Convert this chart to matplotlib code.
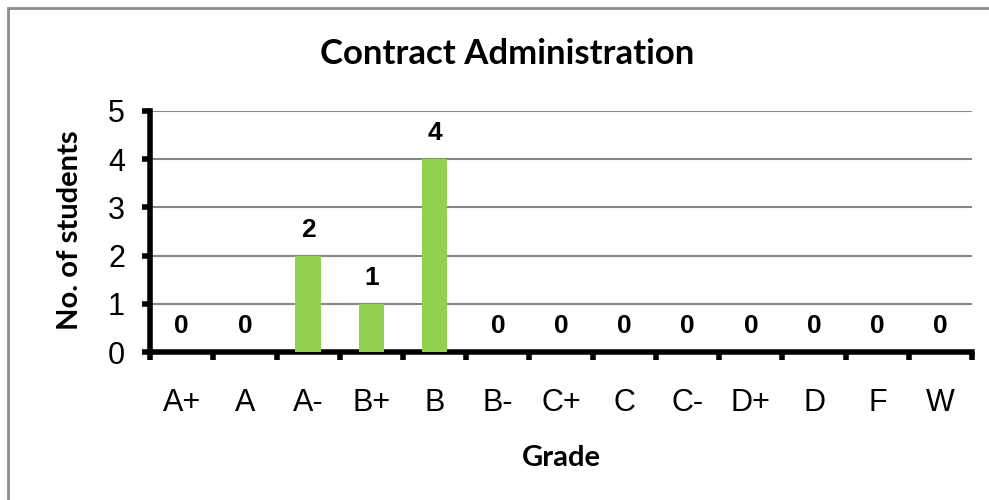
import matplotlib.pyplot as plt
from matplotlib.patches import Rectangle

grades = ["A+", "A", "A-", "B+", "B", "B-", "C+", "C", "C-", "D+", "D", "F", "W"]
students = [0, 0, 2, 1, 4, 0, 0, 0, 0, 0, 0, 0, 0]

fig = plt.figure(figsize=(9.89, 5.0), dpi=100)
ax = fig.add_axes([0.1517, 0.296, 0.8313, 0.482])

# chart frame (top/left visible, rest cropped)
fig.patches.append(Rectangle((0.008, -0.1), 1.2, 1.084, transform=fig.transFigure,
                             fill=False, edgecolor="#8c8c8c", linewidth=2))

x = list(range(len(grades)))
ax.bar(x, students, width=0.4, color="#92D050", zorder=3)

for xi, v in zip(x, students):
    ax.annotate(str(v), (xi, v), xytext=(0, 10), textcoords="offset points",
                ha="center", va="bottom", fontsize=19, fontweight="bold",
                family="Liberation Sans")

ax.set_xlim(-0.5, len(grades) - 0.5)
ax.set_ylim(0, 5)
ax.set_yticks(range(6))
ax.yaxis.grid(True, color="#868686", linewidth=1.5, zorder=0)
ax.set_axisbelow(True)

ax.set_xticks([i - 0.5 for i in range(len(grades) + 1)])
ax.set_xticklabels([])
ax.set_xticks(x, minor=True)
ax.set_xticklabels(grades, minor=True, fontsize=22, family="Liberation Sans")
ax.tick_params(axis="x", which="minor", length=0, pad=26)
ax.tick_params(axis="x", which="major", length=6, width=4, direction="out")
ax.tick_params(axis="y", length=6, width=4, direction="out", labelsize=22, pad=12)
for lab in ax.get_yticklabels():
    lab.set_family("Liberation Sans")

for s in ["top", "right"]:
    ax.spines[s].set_visible(False)
ax.spines["left"].set_linewidth(4)
ax.spines["bottom"].set_linewidth(4)

fig.text(0.513, 0.893, "Contract Administration", ha="center", va="center",
         fontsize=25, fontweight="bold", family="Lato")
fig.text(0.071, 0.54, "No. of students", ha="center", va="center", rotation=90,
         fontsize=21, fontweight="bold", family="Lato")
fig.text(0.568, 0.084, "Grade", ha="center", va="center",
         fontsize=21, fontweight="bold", family="Lato")

fig.savefig("out.png", dpi=100)
